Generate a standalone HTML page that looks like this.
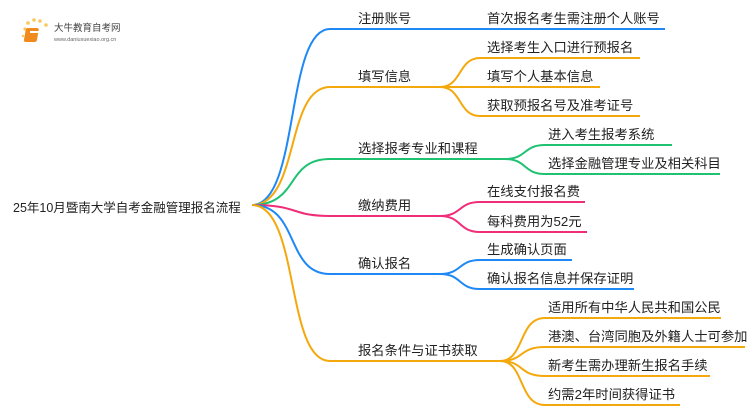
<!DOCTYPE html>
<html><head><meta charset="utf-8"><style>
body{margin:0;background:#fff;width:750px;height:410px;overflow:hidden}
svg text{font-family:"Liberation Sans","Noto Sans CJK SC",sans-serif;font-size:13.3px;fill:#222}
</style></head><body>
<svg width="750" height="410" viewBox="0 0 750 410" xmlns="http://www.w3.org/2000/svg" fill="none" stroke-width="2">
<!-- logo -->
<g>
<circle cx="25" cy="29" r="1.6" fill="#f9c85a" stroke="none"/><circle cx="28" cy="23" r="1.8" fill="#f9c85a" stroke="none"/><circle cx="34" cy="20" r="1.8" fill="#f9c85a" stroke="none"/><circle cx="40" cy="21" r="1.8" fill="#f9c85a" stroke="none"/><circle cx="46" cy="25" r="1.8" fill="#f9c85a" stroke="none"/><circle cx="23" cy="36" r="1.3" fill="#f9c85a" stroke="none"/>
<rect x="31" y="28" width="13" height="14" rx="2" fill="#f08a1c" stroke="none" transform="skewX(-10)"/>
<rect x="30" y="31" width="9" height="2" fill="#fff" stroke="none"/>
<text x="54" y="31" style="font-size:9.5px;fill:#444">大牛教育自考网</text>
<text x="54" y="41" style="font-size:5.5px;fill:#666">www.daniuxuexiao.org.cn</text>
</g>
<text x="13" y="212" style="font-size:12.5px">25年10月暨南大学自考金融管理报名流程</text>
<!-- main branches -->
<path d="M252,205 C300,205 285,29 330,29 L440,29" stroke="#1e88f5"/>
<path d="M252,205 C300,205 285,87 330,87 L440,87" stroke="#f5a80c"/>
<path d="M252,205 C300,205 285,159 330,159 L505,159" stroke="#1fc271"/>
<path d="M252,205 C300,205 290,216 330,216 L440,216" stroke="#ef2d78"/>
<path d="M252,205 C300,205 285,274 330,274 L440,274" stroke="#1e88f5"/>
<path d="M252,205 C300,205 285,361 330,361 L500,361" stroke="#f5a80c"/>
<text x="358" y="23">注册账号</text>
<text x="358" y="81">填写信息</text>
<text x="358" y="153">选择报考专业和课程</text>
<text x="358" y="210">缴纳费用</text>
<text x="358" y="268">确认报名</text>
<text x="358" y="355">报名条件与证书获取</text>
<!-- children -->
<g stroke="#1e88f5"><path d="M440,29 L665,29"/></g>
<text x="487" y="23">首次报名考生需注册个人账号</text>
<g stroke="#f5a80c">
<path d="M440,87 C462,87 458,58 480,58 L640,58"/>
<path d="M440,87 L600,87"/>
<path d="M440,87 C462,87 458,116 480,116 L640,116"/>
</g>
<text x="487" y="52">选择考生入口进行预报名</text>
<text x="487" y="81">填写个人基本信息</text>
<text x="487" y="110">获取预报名号及准考证号</text>
<g stroke="#1fc271">
<path d="M505,159 C527,159 523,145 545,145 L672,145"/>
<path d="M505,159 C527,159 523,174 545,174 L720,174"/>
</g>
<text x="548" y="139">进入考生报考系统</text>
<text x="548" y="168">选择金融管理专业及相关科目</text>
<g stroke="#ef2d78">
<path d="M440,216 C462,216 458,202 480,202 L585,202"/>
<path d="M440,216 C462,216 458,232 480,232 L587,232"/>
</g>
<text x="487" y="196">在线支付报名费</text>
<text x="487" y="226">每科费用为52元</text>
<g stroke="#1e88f5">
<path d="M440,274 C462,274 458,260 480,260 L572,260"/>
<path d="M440,274 C462,274 458,289 480,289 L634,289"/>
</g>
<text x="487" y="254">生成确认页面</text>
<text x="487" y="283">确认报名信息并保存证明</text>
<g stroke="#f5a80c">
<path d="M500,361 C525,361 518,318 545,318 L721,318"/>
<path d="M500,361 C525,361 518,347 545,347 L745,347"/>
<path d="M500,361 C525,361 518,376 545,376 L710,376"/>
<path d="M500,361 C525,361 518,405 545,405 L680,405"/>
</g>
<text x="548" y="312">适用所有中华人民共和国公民</text>
<text x="548" y="341">港澳、台湾同胞及外籍人士可参加</text>
<text x="548" y="370">新考生需办理新生报名手续</text>
<text x="548" y="399">约需2年时间获得证书</text>
</svg>
</body></html>
